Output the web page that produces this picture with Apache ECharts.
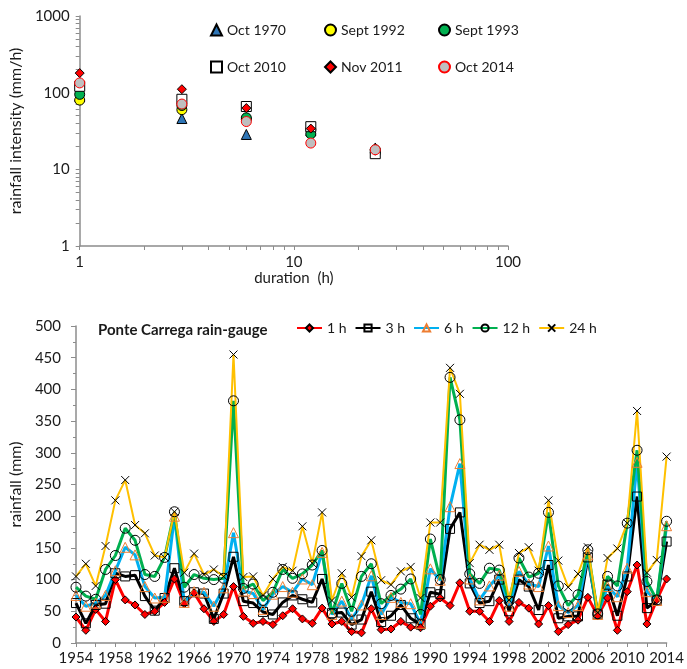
<!DOCTYPE html>
<html>
<head>
<meta charset="utf-8">
<script src="https://cdn.jsdelivr.net/npm/echarts@6/dist/echarts.min.js"></script>
<style>
  html, body { margin: 0; padding: 0; background: #fff; }
  #chart { width: 687px; height: 669px; }
</style>
</head>
<body>
<div id="chart"></div>
<script>
// top panel: intensity-duration of the events
var durations = [1, 3, 6, 12, 24];
var oct1970 = [90, 46, 28.5, 32, 19];
var sept1992 = [80, 60, 45, 33, 18];
var sept1993 = [95, 68, 47, 29, 16.5];
var oct2010 = [121, 82, 66, 36, 16];
var nov2011 = [180, 111, 63, 34, 17.5];
var oct2014 = [134, 71, 42, 22, 18];
var durationTicks = [1, 2, 3, 4, 5, 6, 7, 8, 9, 10, 20, 30, 40, 50, 60, 70, 80, 90, 100];
var intensityTicks = [1, 2, 3, 4, 5, 6, 7, 8, 9, 10, 20, 30, 40, 50, 60, 70, 80, 90,
  100, 200, 300, 400, 500, 600, 700, 800, 900, 1000];

// bottom panel: annual maxima at Ponte Carrega
var years = ['1954', '1955', '1956', '1957', '1958', '1959', '1960', '1961', '1962', '1963',
  '1964', '1965', '1966', '1967', '1968', '1969', '1970', '1971', '1972', '1973',
  '1974', '1975', '1976', '1977', '1978', '1979', '1980', '1981', '1982', '1983',
  '1984', '1985', '1986', '1987', '1988', '1989', '1990', '1991', '1992', '1993',
  '1994', '1995', '1996', '1997', '1998', '1999', '2000', '2001', '2002', '2003',
  '2004', '2005', '2006', '2007', '2008', '2009', '2010', '2011', '2012', '2013', '2014'];
var rain1h = [41, 20, 53, 34, 100, 68, 60, 45, 50, 64, 101, 62, 79, 54, 34, 45, 89, 42, 31, 34,
  29, 43, 54, 38, 31, 55, 30, 34, 18, 16, 54, 21, 22, 34, 25, 24, 58, 71, 59, 95,
  50, 50, 34, 67, 34, 64, 55, 30, 59, 18, 29, 36, 72, 43, 71, 20, 81, 123, 30, 68, 101];
var rain3h = [63, 31, 60, 62, 110, 105, 107, 74, 51, 71, 118, 66, 80, 78, 38, 78, 136, 66, 63, 49,
  45, 64, 75, 69, 64, 101, 47, 48, 29, 37, 81, 33, 43, 60, 39, 29, 80, 77, 180, 206,
  94, 63, 66, 100, 50, 100, 89, 52, 123, 39, 42, 42, 135, 45, 92, 43, 105, 231, 55, 67, 160];
var rain6h = [75, 58, 63, 75, 114, 151, 139, 89, 71, 72, 200, 64, 81, 80, 58, 87, 174, 82, 78, 53,
  77, 89, 80, 101, 92, 143, 45, 66, 38, 60, 106, 45, 72, 64, 62, 31, 117, 99, 215, 283,
  101, 68, 90, 107, 58, 113, 93, 89, 153, 59, 48, 59, 139, 45, 89, 73, 118, 285, 81, 67, 185];
var rain12h = [88, 74, 69, 116, 138, 181, 162, 108, 105, 135, 207, 88, 108, 102, 100, 102, 382, 86, 93, 67,
  80, 116, 102, 109, 123, 146, 46, 94, 50, 105, 125, 62, 75, 85, 101, 45, 164, 100, 419, 352,
  109, 94, 118, 115, 66, 134, 104, 110, 206, 90, 59, 76, 147, 46, 105, 90, 189, 304, 97, 68, 192];
var rain24h = [105, 125, 90, 153, 225, 257, 186, 173, 138, 135, 207, 111, 141, 108, 116, 105, 455, 104, 105, 75,
  101, 120, 114, 184, 126, 206, 67, 110, 72, 137, 162, 99, 92, 113, 120, 71, 190, 190, 434, 393,
  126, 155, 147, 155, 68, 142, 151, 114, 225, 130, 88, 109, 151, 48, 134, 149, 189, 366, 111, 131, 294];

var FONT = 'Lato, "Open Sans", sans-serif';
var TXT = '#1a1a1a';
var AXIS = '#8c8c8c';
var cross = 'path://M0,0L10,10M10,0L0,10';

function pairs(vals) {
  return vals.map(function (v, i) { return [durations[i], v]; });
}

function eventSeries(name, vals, symbol, size, fill, edge) {
  return {
    name: name,
    type: 'scatter',
    xAxisIndex: 0,
    yAxisIndex: 0,
    symbol: symbol,
    symbolSize: size,
    itemStyle: { color: fill, borderColor: edge, borderWidth: 1, opacity: 1 },
    data: pairs(vals)
  };
}

function rainSeries(name, vals, color, width, symbol, size, fill, edge) {
  return {
    name: name,
    type: 'line',
    xAxisIndex: 1,
    yAxisIndex: 1,
    symbol: symbol,
    symbolSize: size,
    showAllSymbol: true,
    lineStyle: { color: color, width: width },
    itemStyle: { color: fill, borderColor: edge, borderWidth: 1 },
    emphasis: { disabled: true },
    data: vals
  };
}

// one small legend per column so the columns sit at fixed places
function eventLegend(left, names) {
  return {
    left: left, top: 18, orient: 'vertical', itemWidth: 11, itemHeight: 11, itemGap: 23,
    textStyle: { fontFamily: FONT, fontSize: 14, color: TXT },
    data: names
  };
}

var myChart = echarts.init(document.getElementById('chart'));

var option = {
  animation: false,
  textStyle: { fontFamily: FONT, color: TXT },
  title: {
    text: 'Ponte Carrega rain-gauge',
    left: 93,
    top: 318,
    textStyle: { fontFamily: FONT, fontSize: 15, fontWeight: 'bold', color: TXT }
  },
  legend: [
    eventLegend(205, ['Oct 1970', 'Oct 2010']),
    eventLegend(319, ['Sept 1992', 'Nov 2011']),
    eventLegend(433, ['Sept 1993', 'Oct 2014']),
    {
      left: 291, top: 316, itemWidth: 25, itemHeight: 9, itemGap: 8,
      textStyle: { fontFamily: FONT, fontSize: 14, color: TXT },
      data: ['1 h', '3 h', '6 h', '12 h', '24 h']
    }
  ],
  grid: [
    { left: 78, top: 16, width: 430, height: 230 },
    { left: 66, top: 326, width: 604, height: 317 }
  ],
  xAxis: [
    {
      gridIndex: 0,
      type: 'log',
      logBase: 10,
      min: 1,
      max: 100,
      name: 'duration  (h)',
      nameLocation: 'middle',
      nameGap: 25,
      nameTextStyle: { fontFamily: FONT, fontSize: 15, color: TXT },
      axisLine: { lineStyle: { color: AXIS, width: 1.5 } },
      axisTick: { show: true, length: 4, customValues: durationTicks, lineStyle: { color: AXIS } },
      axisLabel: { fontFamily: FONT, fontSize: 15, color: TXT, margin: 9 },
      splitLine: { show: false }
    },
    {
      gridIndex: 1,
      type: 'category',
      data: years,
      boundaryGap: false,
      axisLine: { lineStyle: { color: AXIS, width: 1.5 } },
      axisTick: { show: true, interval: 1, length: 4, lineStyle: { color: AXIS } },
      axisLabel: { interval: 3, fontFamily: FONT, fontSize: 15, color: TXT, margin: 8 },
      splitLine: { show: false }
    }
  ],
  yAxis: [
    {
      gridIndex: 0,
      type: 'log',
      logBase: 10,
      min: 1,
      max: 1000,
      name: 'rainfall intensity (mm/h)',
      nameLocation: 'middle',
      nameGap: 50,
      nameTextStyle: { fontFamily: FONT, fontSize: 16, color: TXT },
      axisLine: { show: true, lineStyle: { color: AXIS, width: 1.5 } },
      axisTick: { show: true, length: 4, customValues: intensityTicks, lineStyle: { color: AXIS } },
      axisLabel: {
        fontFamily: FONT, fontSize: 15, color: TXT, margin: 10,
        formatter: function (v) { return String(v); }
      },
      splitLine: { show: false }
    },
    {
      gridIndex: 1,
      type: 'value',
      min: 0,
      max: 500,
      interval: 50,
      name: 'rainfall (mm)',
      nameLocation: 'middle',
      nameGap: 40,
      nameTextStyle: { fontFamily: FONT, fontSize: 16, color: TXT },
      axisLine: { show: true, lineStyle: { color: AXIS, width: 1.5 } },
      axisTick: { show: true, length: 5, lineStyle: { color: AXIS } },
      minorTick: { show: true, splitNumber: 2, length: 3, lineStyle: { color: AXIS } },
      axisLabel: { fontFamily: FONT, fontSize: 15, color: TXT, margin: 15 },
      splitLine: { show: false }
    }
  ],
  series: [
    eventSeries('Oct 1970', oct1970, 'triangle', 10, '#2e75b6', '#000'),
    eventSeries('Sept 1992', sept1992, 'circle', 10, '#ffff00', '#000'),
    eventSeries('Sept 1993', sept1993, 'circle', 10, '#00b050', '#000'),
    eventSeries('Oct 2010', oct2010, 'rect', 10, '#ffffff', '#000'),
    eventSeries('Nov 2011', nov2011, 'diamond', 9, '#ff0000', '#000'),
    eventSeries('Oct 2014', oct2014, 'circle', 10, '#bfbfbf', '#ff0000'),
    rainSeries('1 h', rain1h, '#ff0000', 3, 'diamond', 8, '#ff0000', '#000'),
    rainSeries('3 h', rain3h, '#000000', 3, 'rect', 9, 'rgba(255,255,255,0)', '#000'),
    rainSeries('6 h', rain6h, '#00b0f0', 3, 'triangle', 10, 'rgba(255,255,255,0)', '#ed7d31'),
    rainSeries('12 h', rain12h, '#00b050', 3, 'circle', 10, 'rgba(255,255,255,0)', '#000'),
    rainSeries('24 h', rain24h, '#ffc000', 2, cross, 8, 'rgba(0,0,0,0)', '#000')
  ]
};

myChart.setOption(option);
</script>
</body>
</html>
